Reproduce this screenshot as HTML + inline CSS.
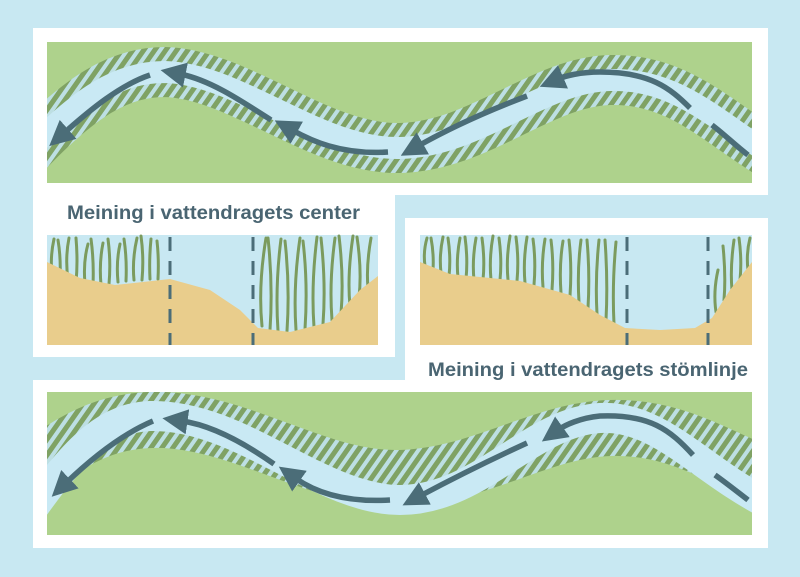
<!DOCTYPE html>
<html><head><meta charset="utf-8"><style>
html,body{margin:0;padding:0;background:#c8e8f2;}
svg{display:block}
text{font-family:"Liberation Sans",sans-serif;font-weight:bold;fill:#4a6572}
</style></head><body>
<svg width="800" height="577" viewBox="0 0 800 577" xmlns="http://www.w3.org/2000/svg">
<defs>
<pattern id="h" patternUnits="userSpaceOnUse" width="9" height="9" patternTransform="rotate(35)">
<rect width="9" height="9" fill="#bddfe3"/><rect width="5" height="9" fill="#7fa264"/>
</pattern>
<marker id="a" markerWidth="4.6" markerHeight="4.6" refX="1" refY="2.3" orient="auto" markerUnits="strokeWidth">
<path d="M0,0 L4.6,2.3 L0,4.6 Z" fill="#4b6d78"/>
</marker>
</defs>
<rect width="800" height="577" fill="#c8e8f2"/>
<path d="M33,28 H768 V195 H395 V357 H33 Z" fill="#fff"/>
<path d="M405,218 H768 V548 H33 V380 H405 Z" fill="#fff"/>

<!-- top river -->
<svg x="47" y="42" width="705" height="141" viewBox="47 42 705 141" overflow="hidden">
<rect x="47" y="42" width="705" height="141" fill="#aed28c"/>
<path d="M20,160 C80,95 120,72 165,72 C240,74 320,150 400,148 C480,146 540,82 610,80 C680,78 720,125 780,160" fill="none" stroke="url(#h)" stroke-width="50"/>
<path d="M20,160 C80,95 120,72 165,72 C240,74 320,150 400,148 C480,146 540,82 610,80 C680,78 720,125 780,160" fill="none" stroke="#c9e9f4" stroke-width="22"/>
<g fill="none" stroke="#4b6d78" stroke-width="5.5">
<path d="M748,155 C735,145 725,135 712,125" />
<path d="M690,108 C670,88 650,72 600,72 C580,72 565,76 558,79" marker-end="url(#a)"/>
<path d="M527,96 C490,110 450,128 418,146" marker-end="url(#a)"/>
<path d="M388,152 C340,155 310,140 292,130" marker-end="url(#a)"/>
<path d="M271,120 C240,100 210,80 180,74" marker-end="url(#a)"/>
<path d="M150,75 C120,85 90,110 64,133" marker-end="url(#a)"/>
</g>
</svg>

<text x="67" y="219" font-size="19" textLength="293" lengthAdjust="spacingAndGlyphs">Meining i vattendragets center</text>
<text x="428" y="376" font-size="19" textLength="320" lengthAdjust="spacingAndGlyphs">Meining i vattendragets stömlinje</text>

<!-- left section -->
<rect x="47" y="235" width="331" height="110" fill="#c8e8f2"/>
<g stroke="#7b9b5e" stroke-width="3" fill="none" stroke-linecap="round">
<path d="M52,275 q-2,-18 2,-36"/><path d="M60,278 q1,-20 -2,-38"/><path d="M68,280 q-3,-22 1,-42"/><path d="M76,282 q2,-20 0,-44"/><path d="M85,284 q-2,-22 3,-40"/><path d="M93,285 q1,-24 -2,-46"/><path d="M101,285 q-2,-22 2,-42"/><path d="M109,284 q2,-22 -1,-45"/><path d="M118,282 q-2,-20 2,-38"/><path d="M126,281 q1,-22 -2,-42"/><path d="M134,280 q-2,-20 3,-42"/><path d="M142,280 q2,-22 -1,-44"/><path d="M150,279 q-1,-20 1,-40"/><path d="M158,279 q1,-20 -1,-38"/>
<path d="M262,326 q-4,-40 4,-88"/><path d="M270,330 q3,-45 -2,-92"/><path d="M278,331 q-3,-45 3,-92"/><path d="M287,331 q3,-45 -2,-90"/><path d="M296,330 q-3,-44 4,-92"/><path d="M305,329 q3,-45 -2,-88"/><path d="M314,327 q-3,-42 3,-90"/><path d="M323,324 q3,-40 -2,-86"/><path d="M332,320 q-3,-38 3,-82"/><path d="M341,314 q3,-36 -2,-78"/><path d="M350,306 q-3,-30 3,-70"/><path d="M359,297 q3,-26 -2,-60"/><path d="M368,288 q-2,-22 3,-50"/>
</g>
<path d="M47,262 L80,278 L115,285 L170,279 L210,290 L240,310 L258,328 L290,332 L330,322 L360,290 L378,276 V345 H47 Z" fill="#e9cd8c"/>
<g stroke="#4b6d78" stroke-width="3" stroke-dasharray="14,10"><path d="M170,237 V345"/><path d="M253,237 V345"/></g>

<!-- right section -->
<rect x="420" y="235" width="332" height="110" fill="#c8e8f2"/>
<g stroke="#7b9b5e" stroke-width="3" fill="none" stroke-linecap="round">
<path d="M425,266 q-2,-14 2,-28"/><path d="M433,270 q1,-16 -2,-32"/><path d="M441,273 q-2,-18 2,-36"/><path d="M449,276 q2,-18 -1,-38"/><path d="M458,278 q-2,-20 2,-40"/><path d="M466,279 q2,-20 -1,-42"/><path d="M474,280 q-2,-20 2,-42"/><path d="M483,280 q2,-20 -1,-42"/><path d="M491,280 q-2,-22 2,-44"/><path d="M500,280 q2,-20 -1,-42"/><path d="M508,280 q-2,-22 2,-44"/><path d="M517,281 q2,-22 -1,-44"/><path d="M525,283 q-2,-22 2,-46"/><path d="M534,285 q2,-24 -1,-46"/><path d="M543,287 q-2,-24 2,-48"/><path d="M552,290 q2,-26 -1,-50"/><path d="M561,293 q-2,-28 2,-52"/><path d="M570,296 q2,-30 -1,-56"/><path d="M579,302 q-2,-32 2,-62"/><path d="M588,308 q2,-34 -1,-68"/><path d="M597,314 q-2,-36 2,-74"/><path d="M606,320 q2,-38 -1,-80"/><path d="M614,324 q-2,-40 2,-82"/>
<path d="M716,312 q-3,-20 2,-42"/><path d="M724,300 q2,-24 -1,-54"/><path d="M732,290 q-2,-22 2,-50"/><path d="M740,280 q2,-20 -1,-42"/><path d="M748,270 q-2,-16 2,-32"/>
</g>
<path d="M420,262 L450,274 L520,281 L570,295 L600,315 L625,328 L660,330 L695,328 L712,318 L730,290 L752,262 V345 H420 Z" fill="#e9cd8c"/>
<g stroke="#4b6d78" stroke-width="3" stroke-dasharray="14,10"><path d="M627,237 V345"/><path d="M708,237 V345"/></g>

<!-- bottom river -->
<svg x="47" y="392" width="705" height="143" viewBox="47 392 705 143" overflow="hidden">
<rect x="47" y="392" width="705" height="143" fill="#aed28c"/>
<path d="M20,480 C80,430 120,418 165,420 C250,425 320,480 400,478 C480,476 540,430 610,428 C680,426 720,460 780,480" fill="none" stroke="url(#h)" stroke-width="56"/>
<path d="M25,520 C80,440 110,418 150,416 C240,414 320,500 400,500 C480,500 530,422 600,418 C660,415 700,470 770,505" fill="none" stroke="#c9e9f4" stroke-width="30"/>
<g fill="none" stroke="#4b6d78" stroke-width="5.5">
<path d="M748,500 C735,490 725,482 715,475"/>
<path d="M693,455 C670,430 650,414 600,416 C580,418 565,425 558,430" marker-end="url(#a)"/>
<path d="M527,443 C490,460 450,480 420,496" marker-end="url(#a)"/>
<path d="M390,500 C340,503 312,490 295,478" marker-end="url(#a)"/>
<path d="M274,464 C240,440 210,425 182,421" marker-end="url(#a)"/>
<path d="M153,421 C120,435 90,460 66,483" marker-end="url(#a)"/>
</g>
</svg>
</svg>
</body></html>
